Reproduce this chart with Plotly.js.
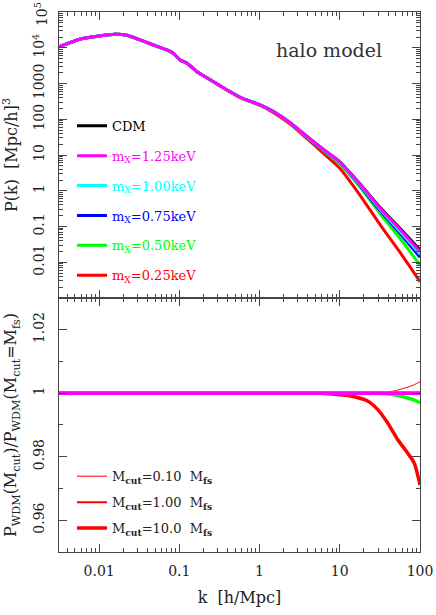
<!DOCTYPE html>
<html>
<head>
<meta charset="utf-8">
<script src="https://cdn.plot.ly/plotly-3.0.1.min.js"></script>
<style>
  html, body { margin: 0; padding: 0; background: #fff; }
  #chart { width: 436px; height: 615px; }
</style>
</head>
<body>
<div id="chart"></div>
<script>
// power spectra, upper panel
var kTop = [0.00316, 0.00575, 0.0100, 0.0158, 0.0222, 0.0324, 0.0473, 0.0701, 0.0851, 0.102,
  0.125, 0.166, 0.245, 0.394, 0.579, 1.03, 1.51, 2.45, 3.94, 6.31, 10.0, 17.8, 31.6, 56.2, 100];
var pCDM = [10700, 17400, 21400, 23800, 22400, 16600, 12000, 8710, 6920, 4570,
  3670, 2140, 1260, 661, 407, 251, 162, 77.6, 32.4, 14.1, 6.46, 1.58, 0.347, 0.0891, 0.0219];
var pM125 = [10700, 17400, 21400, 23800, 22400, 16600, 12000, 8710, 6920, 4570,
  3670, 2140, 1260, 661, 407, 251, 162, 77.6, 32.4, 14.1, 6.38, 1.55, 0.331, 0.0832, 0.0197];
var pM100 = [10700, 17400, 21400, 23800, 22400, 16600, 12000, 8710, 6920, 4570,
  3670, 2140, 1260, 661, 407, 251, 162, 77.6, 32.0, 13.8, 6.24, 1.48, 0.309, 0.0741, 0.0170];
var pM075 = [10700, 17400, 21400, 23800, 22400, 16600, 12000, 8710, 6920, 4570,
  3670, 2140, 1260, 661, 407, 251, 162, 76.7, 31.6, 13.6, 6.10, 1.41, 0.282, 0.0646, 0.0138];
var pM050 = [10700, 17400, 21400, 23800, 22400, 16600, 12000, 8710, 6920, 4570,
  3670, 2140, 1260, 661, 407, 251, 160, 75.9, 30.9, 13.2, 5.75, 1.29, 0.234, 0.0468, 0.00832];
var pM025 = [10700, 17400, 21400, 23800, 22400, 16600, 12000, 8710, 6920, 4570,
  3670, 2140, 1260, 653, 398, 240, 151, 70.8, 28.2, 11.0, 4.27, 0.759, 0.115, 0.0191, 0.00288];

// ratios, lower panel
var kRatio = [0.00316, 1.00, 3.16, 5.75, 8.51, 13.7, 22.2, 29.6, 39.4, 52.6, 70.1, 84.9, 100];
var rFlat = [1, 1, 1, 1, 1, 1, 1, 1, 1, 1, 1, 1, 1];
var rRedThin = [1, 1, 1, 1, 1, 1, 1, 1.0000, 1.0003, 1.0010, 1.0019, 1.0027, 1.0036];
var rRedThick = [1, 1, 1, 1, 0.9997, 0.99914, 0.99756, 0.99492, 0.99070, 0.98540, 0.98117, 0.97800, 0.97111];
var rGreenThick = [1, 1, 1, 1, 1, 1, 1, 1, 0.9998, 0.9993, 0.9985, 0.9978, 0.9970];

var massLabels = ["1.25", "1.00", "0.75", "0.50", "0.25"];
var cutLabels = ["0.10", "1.00", "10.0"];
var xTicks = [0.01, 0.1, 1, 10, 100];
var xTickText = ["0.01", "0.1", "1", "10", "100"];
var yTopTicks = [0.01, 0.1, 1, 10, 100, 1000, 1e4, 1e5];
var yTopText = ["0.01", "0.1", "1", "10", "100", "1000", "10<sup>4</sup>", ""];
var yTopEdgeLabel = "10<sup>5</sup>";
var yBotTicks = [0.96, 0.98, 1, 1.02];
var yBotText = ["0.96", "0.98", "1", "1.02"];

(function() {
  "use strict";

  var FONT = "DejaVu Serif";
  var colors = ["#ff00ff", "#00ffff", "#0000ff", "#00ff00", "#ff0000"];

  function topTrace(y, color, label, rank) {
    return {
      x: kTop, y: y, xaxis: "x2", yaxis: "y2",
      type: "scatter", mode: "lines",
      line: {color: color, width: 3, shape: "spline", smoothing: 0.6},
      name: '<span style="color:' + color + '">' + label + '</span>',
      legend: "legend", legendgroup: "t" + rank, legendrank: rank,
      hoverinfo: "skip"
    };
  }

  function ratioTrace(y, color, width, showLegend, label, rank) {
    return {
      x: kRatio, y: y, xaxis: "x", yaxis: "y",
      type: "scatter", mode: "lines",
      line: {color: color, width: width, shape: "spline", smoothing: 0.6},
      name: label || " ", showlegend: !!showLegend,
      legend: "legend2", legendgroup: "b" + rank, legendrank: rank,
      hoverinfo: "skip"
    };
  }

  function main() {
    var data = [];
    var spectra = [pM025, pM050, pM075, pM100, pM125];
    data.push(topTrace(pCDM, "#000000", "CDM", 1));
    for (var i = 4; i >= 0; i -= 1) {
      // draw red first so magenta ends on top
      data.push(topTrace(spectra[4 - i], colors[i],
        "m<sub>X</sub>=" + massLabels[i] + "keV", 2 + i));
    }

    var widths = [1, 2, 3.5];
    var ratios = {
      "#ff0000": [rRedThin, rFlat, rRedThick],
      "#00ff00": [rFlat, rFlat, rGreenThick],
      "#0000ff": [rFlat, rFlat, rFlat],
      "#00ffff": [rFlat, rFlat, rFlat],
      "#ff00ff": [rFlat, rFlat, rFlat]
    };
    for (var c = 4; c >= 0; c -= 1) {
      var col = colors[c];
      for (var w = 0; w < 3; w += 1) {
        var isRed = (c === 4);
        var label = 'M<sub><b>cut</b></sub>=' + cutLabels[w] + '  M<sub><b>fs</b></sub>';
        data.push(ratioTrace(ratios[col][w], col, widths[w], isRed, label, 10 + w));
      }
    }

    var tickFont = {family: FONT, size: 14, color: "#222"};
    var axisCommon = {
      showgrid: false, zeroline: false, showline: true,
      linecolor: "#444", linewidth: 1, mirror: "allticks",
      ticks: "inside", ticklen: 8, tickcolor: "#444",
      tickfont: tickFont
    };

    var layout = {
      width: 436, height: 615,
      margin: {l: 59, r: 16, t: 12, b: 63},
      paper_bgcolor: "#fff", plot_bgcolor: "#fff",
      font: {family: FONT, size: 14, color: "#222"},
      showlegend: true,
      xaxis: Object.assign({}, axisCommon, {
        type: "log", range: [-2.5, 2], anchor: "y",
        tickvals: xTicks, ticktext: xTickText, tickmode: "array",
        ticklabelstandoff: 6,
        minor: {ticks: "inside", ticklen: 4, dtick: "D1", tickcolor: "#444", showgrid: false},
        title: {text: "k  [h/Mpc]", font: {family: FONT, size: 16}, standoff: 14}
      }),
      xaxis2: Object.assign({}, axisCommon, {
        type: "log", range: [-2.5, 2], anchor: "y2", matches: "x",
        tickvals: xTicks, tickmode: "array", showticklabels: false,
        minor: {ticks: "inside", ticklen: 4, dtick: "D1", tickcolor: "#444", showgrid: false}
      }),
      yaxis: Object.assign({}, axisCommon, {
        domain: [0, 0.4704], range: [0.95, 1.03], anchor: "x",
        tickvals: yBotTicks, ticktext: yBotText, tickmode: "array",
        tickangle: -90, ticklabelstandoff: 8,
        minor: {ticks: "inside", ticklen: 4, dtick: 0.01, tickcolor: "#444", showgrid: false},
        title: {
          text: "P<sub>WDM</sub>(M<sub>cut</sub>)/P<sub>WDM</sub>(M<sub>cut</sub>=M<sub>fs</sub>)",
          font: {family: FONT, size: 16}, standoff: 10
        }
      }),
      yaxis2: Object.assign({}, axisCommon, {
        type: "log", domain: [0.4704, 1], range: [-3, 5.002], anchor: "x2",
        tickvals: yTopTicks, ticktext: yTopText, tickmode: "array",
        tickangle: -90, ticklabelstandoff: 8,
        minor: {ticks: "inside", ticklen: 4, dtick: "D1", tickcolor: "#444", showgrid: false},
        title: {text: "P(k)  [Mpc/h]<sup>3</sup>", font: {family: FONT, size: 16}, standoff: 10}
      }),
      legend: {
        x: 0.036, y: 0.817, xanchor: "left", yanchor: "top",
        bgcolor: "rgba(0,0,0,0)", borderwidth: 0,
        traceorder: "grouped", tracegroupgap: 10,
        font: {family: FONT, size: 13}
      },
      legend2: {
        x: 0.036, y: 0.168, xanchor: "left", yanchor: "top",
        bgcolor: "rgba(0,0,0,0)", borderwidth: 0,
        traceorder: "grouped", tracegroupgap: 6,
        font: {family: FONT, size: 13, color: "#222"}
      },
      annotations: [{
        text: "halo model", xref: "paper", yref: "paper",
        x: 0.748, y: 0.9296, xanchor: "center", yanchor: "middle",
        showarrow: false, font: {family: FONT, size: 19, color: "#333"}
      }, {
        // top tick label sits at the page edge, nudge it down so it stays whole
        text: yTopEdgeLabel, xref: "paper", yref: "paper",
        x: -0.05, y: 0.996, xanchor: "center", yanchor: "middle",
        textangle: -90, showarrow: false, font: tickFont
      }]
    };

    Plotly.newPlot("chart", data, layout, {displayModeBar: false, staticPlot: true});
  }

  window.addEventListener("load", main, false);

})();
</script>
</body>
</html>
